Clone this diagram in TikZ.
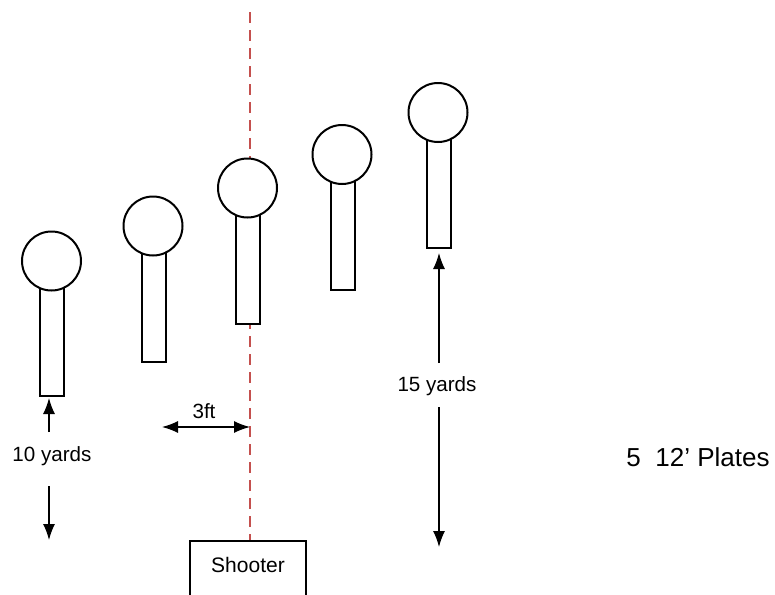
\documentclass[tikz,border=0pt]{standalone}
\usepackage{fontspec}
\setmainfont{Liberation Sans}
\usetikzlibrary{arrows.meta}
\definecolor{aimred}{RGB}{196,80,78}
\tikzset{
  head/.style={draw, circle, fill=white, line width=1pt, minimum size=29.5pt, inner sep=0pt},
  stem/.style={draw, rectangle, fill=white, line width=1pt, minimum width=12pt, minimum height=68pt, inner sep=0pt, anchor=south},
  lbl/.style={font=\fontsize{10.3}{12}\selectfont, inner sep=0pt},
}
\begin{document}
\begin{tikzpicture}[x=0.5pt, y=-0.5pt]
    \useasboundingbox (0,0) rectangle (775,594);
    \node[draw, line width=1pt, anchor=north, minimum width=58pt, inner ysep=7.75pt, text height=8pt, text depth=30pt, font=\fontsize{10.5}{12}\selectfont] at (248,540) (shooter) {Shooter};
    \coordinate (sight) at (250,12);
    \coordinate (aim) at (250,540);
    \draw[aimred, line width=1.15pt, dash pattern=on 5.25pt off 3.75pt] (sight) -- (aim);
    \node[stem] at (52,397) (s1) {};
    \node[head] at (51.5,261) (h1) {};
    \node[stem] at (154,363) (s2) {};
    \node[head] at (153,226) (h2) {};
    \node[stem] at (248,324.5) (s3) {};
    \node[head] at (247.5,188) (h3) {};
    \node[stem] at (343,291) (s4) {};
    \node[head] at (342,154.5) (h4) {};
    \node[stem] at (439,249) (s5) {};
    \node[head] at (438,112.5) (h5) {};
    \node[lbl] at (52,456) (ten) {10 yards};
    \node[lbl] at (204,411) (three) {3ft};
    \node[lbl] at (437,386) (fifteen) {15 yards};
    \node[font=\fontsize{13}{15}\selectfont, inner sep=0pt] at (698,457) (plates) {5\ \ 12’ Plates};
    \coordinate (t1) at (49,398);
    \coordinate (a1) at (49,432);
    \coordinate (a2) at (49,486);
    \coordinate (t2) at (49,540);
    \coordinate (l3) at (162,427);
    \coordinate (r3) at (250,427);
    \coordinate (t3) at (439,253);
    \coordinate (a3) at (439,363);
    \coordinate (a4) at (439,407);
    \coordinate (t4) at (439,547);
    \path[->, line width=0.65pt, >={Latex[length=8pt,width=6pt]}]
    (a1)  edge (t1)
    (a2)  edge (t2)
    (a3)  edge (t3)
    (a4)  edge (t4);
    \path[<->, line width=0.65pt, >={Latex[length=8pt,width=6pt]}]
    (l3)  edge (r3);
  \end{tikzpicture}
\end{document}
